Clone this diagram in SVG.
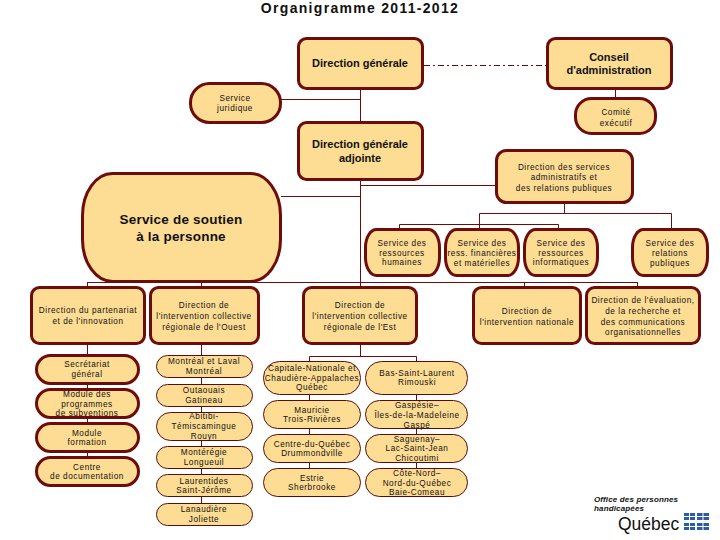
<svg xmlns="http://www.w3.org/2000/svg" width="720" height="540" viewBox="0 0 720 540">
<style>
.n{fill:#fddc94;stroke:#6e0b0b;stroke-width:3}
.t{fill:#fddc94;stroke:#5a0c0c;stroke-width:1}
.c{fill:none;stroke:#6e0b0b;stroke-width:1}
text{font-family:"Liberation Sans",Arial,sans-serif;text-anchor:middle;fill:#111}
.b{font-size:11px;font-weight:700}
.s{font-size:8.2px;letter-spacing:.55px}
.h{font-size:14px;font-weight:700;letter-spacing:1.3px}
.l{font-size:13.5px;font-weight:700;letter-spacing:.2px}
.o{font-size:8px;font-weight:700;font-style:italic;text-anchor:start;letter-spacing:.15px}
</style>
<text class="h" x="360" y="13">Organigramme 2011-2012</text>
<g id="connectors" class="c">
<path d="M360.500 88V287M281 99.500H360.500M281 196.500H360.500M360.500 185.500H496M87.500 282.500H637.500M87.500 282V287M201.500 282V287M524.500 282V287M637.500 282V287"/>
<path d="M564.500 203V213.500M479.500 213.500H671.500M671.500 213.500V229M479.500 213.500V224.500M399.500 224.500H558.500M399.500 224.500V229M479.500 224.500V229M558.500 224.500V229"/>
<path d="M424 65.500H547" stroke-dasharray="6 3 2 3"/>
<path d="M615.500 88V98"/>
<path d="M87.500 344V457M201.500 344V503M360.500 344V356.500M309.500 356.500H416.500M309.500 356.500V468M416.500 356.500V468"/>
</g>
<g id="direction-generale"><rect class="n" x="298.500" y="38.500" width="124" height="50" rx="8"/><text class="b" x="360" y="67">Direction générale</text></g>
<g id="conseil"><rect class="n" x="547.500" y="38.500" width="124" height="50" rx="8"/><text class="b" x="609" y="61">Conseil</text><text class="b" x="609" y="74">d'administration</text></g>
<g id="juridique"><rect class="n" x="190.500" y="83.500" width="90" height="39" rx="19"/><text class="s" x="235" y="101">Service</text><text class="s" x="235" y="111">juridique</text></g>
<g id="comite"><rect class="n" x="575.500" y="98.500" width="80" height="35" rx="16"/><text class="s" x="616" y="115">Comité</text><text class="s" x="616" y="126">exécutif</text></g>
<g id="adjointe"><rect class="n" x="298.500" y="122.500" width="124" height="57" rx="8"/><text class="b" x="360" y="148">Direction générale</text><text class="b" x="360" y="162">adjointe</text></g>
<g id="admin"><rect class="n" x="496.500" y="150.500" width="136" height="52" rx="10"/><text class="s" x="564" y="170">Direction des services</text><text class="s" x="564" y="180">administratifs et</text><text class="s" x="564" y="191">des relations publiques</text></g>
<g id="soutien"><rect class="n" x="82.500" y="173.500" width="198" height="108" rx="30" ry="42"/><text class="l" x="181" y="224">Service de soutien</text><text class="l" x="181" y="241">à la personne</text></g>
<g id="rh"><rect class="n" x="365.500" y="229.500" width="74" height="46" rx="11" ry="18"/><text class="s" x="402" y="246">Service des</text><text class="s" x="402" y="256">ressources</text><text class="s" x="402" y="265">humaines</text></g>
<g id="rf"><rect class="n" x="445.500" y="229.500" width="73" height="46" rx="11" ry="18"/><text class="s" x="482" y="246">Service des</text><text class="s" x="482" y="256">ress. financières</text><text class="s" x="482" y="266">et matérielles</text></g>
<g id="ri"><rect class="n" x="524.500" y="229.500" width="73" height="46" rx="11" ry="18"/><text class="s" x="561" y="246">Service des</text><text class="s" x="561" y="256">ressources</text><text class="s" x="561" y="265">informatiques</text></g>
<g id="rp"><rect class="n" x="632.500" y="229.500" width="75" height="46" rx="11" ry="18"/><text class="s" x="670" y="246">Service des</text><text class="s" x="670" y="256">relations</text><text class="s" x="670" y="266">publiques</text></g>
<g id="partenariat"><rect class="n" x="31.500" y="287.500" width="113" height="56" rx="8"/><text class="s" x="88" y="313">Direction du partenariat</text><text class="s" x="88" y="324">et de l'innovation</text></g>
<g id="ouest"><rect class="n" x="150.500" y="287.500" width="108" height="56" rx="8"/><text class="s" x="204" y="308">Direction de</text><text class="s" x="204" y="319">l'intervention collective</text><text class="s" x="204" y="330">régionale de l'Ouest</text></g>
<g id="est"><rect class="n" x="303.500" y="287.500" width="113" height="56" rx="8"/><text class="s" x="360" y="308">Direction de</text><text class="s" x="360" y="319">l'intervention collective</text><text class="s" x="360" y="330">régionale de l'Est</text></g>
<g id="nationale"><rect class="n" x="473.500" y="287.500" width="107" height="56" rx="8"/><text class="s" x="527" y="314">Direction de</text><text class="s" x="527" y="325">l'intervention nationale</text></g>
<g id="evaluation"><rect class="n" x="586.500" y="287.500" width="113" height="56" rx="8"/><text class="s" x="643" y="303">Direction de l'évaluation,</text><text class="s" x="643" y="314">de la recherche et</text><text class="s" x="643" y="325">des communications</text><text class="s" x="643" y="335">organisationnelles</text></g>
<g id="secretariat"><rect class="n" x="36.500" y="355.500" width="102" height="28" rx="14"/><text class="s" x="87" y="367">Secrétariat</text><text class="s" x="87" y="377">général</text></g>
<g id="module-prog"><rect class="n" x="36.500" y="389.500" width="102" height="28" rx="14"/><text class="s" x="87" y="397">Module des</text><text class="s" x="87" y="407">programmes</text><text class="s" x="87" y="416">de subventions</text></g>
<g id="module-form"><rect class="n" x="36.500" y="423.500" width="102" height="28" rx="14"/><text class="s" x="87" y="436">Module</text><text class="s" x="87" y="445">formation</text></g>
<g id="centre-doc"><rect class="n" x="36.500" y="457.500" width="102" height="28" rx="14"/><text class="s" x="87" y="470">Centre</text><text class="s" x="87" y="479">de documentation</text></g>
<g id="montreal"><rect class="t" x="156.500" y="355.500" width="96" height="22" rx="11"/><text class="s" x="204" y="364">Montréal et Laval</text><text class="s" x="204" y="374">Montréal</text></g>
<g id="outaouais"><rect class="t" x="156.500" y="384.500" width="96" height="22" rx="11"/><text class="s" x="204" y="393">Outaouais</text><text class="s" x="204" y="403">Gatineau</text></g>
<g id="abitibi"><rect class="t" x="156.500" y="412.500" width="96" height="28" rx="14"/><text class="s" x="204" y="419">Abitibi-</text><text class="s" x="204" y="429">Témiscamingue</text><text class="s" x="204" y="439">Rouyn</text></g>
<g id="monteregie"><rect class="t" x="156.500" y="446.500" width="96" height="22" rx="11"/><text class="s" x="204" y="455">Montérégie</text><text class="s" x="204" y="465">Longueuil</text></g>
<g id="laurentides"><rect class="t" x="156.500" y="474.500" width="96" height="22" rx="11"/><text class="s" x="204" y="484">Laurentides</text><text class="s" x="204" y="493">Saint-Jérôme</text></g>
<g id="lanaudiere"><rect class="t" x="156.500" y="503.500" width="96" height="22" rx="11"/><text class="s" x="204" y="512">Lanaudière</text><text class="s" x="204" y="522">Joliette</text></g>
<g id="capitale"><rect class="t" x="263.500" y="361.500" width="97" height="33" rx="16"/><text class="s" x="312" y="371">Capitale-Nationale et</text><text class="s" x="312" y="381">Chaudière-Appalaches</text><text class="s" x="312" y="390">Québec</text></g>
<g id="mauricie"><rect class="t" x="263.500" y="400.500" width="97" height="28" rx="14"/><text class="s" x="312" y="413">Mauricie</text><text class="s" x="312" y="422">Trois-Rivières</text></g>
<g id="centre-quebec"><rect class="t" x="263.500" y="434.500" width="97" height="28" rx="14"/><text class="s" x="312" y="447">Centre-du-Québec</text><text class="s" x="312" y="456">Drummondville</text></g>
<g id="estrie"><rect class="t" x="263.500" y="468.500" width="97" height="28" rx="14"/><text class="s" x="312" y="481">Estrie</text><text class="s" x="312" y="490">Sherbrooke</text></g>
<g id="bas-st-laurent"><rect class="t" x="365.500" y="361.500" width="102" height="33" rx="16"/><text class="s" x="417" y="376">Bas-Saint-Laurent</text><text class="s" x="417" y="385">Rimouski</text></g>
<g id="gaspesie"><rect class="t" x="365.500" y="400.500" width="102" height="28" rx="14"/><text class="s" x="417" y="408">Gaspésie–</text><text class="s" x="417" y="418">Îles-de-la-Madeleine</text><text class="s" x="417" y="428">Gaspé</text></g>
<g id="saguenay"><rect class="t" x="365.500" y="434.500" width="102" height="28" rx="14"/><text class="s" x="417" y="442">Saguenay–</text><text class="s" x="417" y="451">Lac-Saint-Jean</text><text class="s" x="417" y="461">Chicoutimi</text></g>
<g id="cote-nord"><rect class="t" x="365.500" y="468.500" width="102" height="28" rx="14"/><text class="s" x="417" y="476">Côte-Nord–</text><text class="s" x="417" y="486">Nord-du-Québec</text><text class="s" x="417" y="495">Baie-Comeau</text></g>
<g id="logo">
<text class="o" x="594" y="502">Office des personnes</text>
<text class="o" x="594" y="511">handicapées</text>
<text x="618" y="530" style="font-size:17.500px;text-anchor:start">Québec</text>
<path fill="#2b5ca8" d="M684 513h11v7h-11zM697 513h12v7h-12zM684 523h11v7h-11zM697 523h12v7h-12z"/>
<path fill="#fff" d="M689 513h1v7h-1zM684 516h11v1h-11zM702.500 513h1v7h-1zM697 516h12v1h-12zM689 523h1v7h-1zM684 526h11v1h-11zM702.500 523h1v7h-1zM697 526h12v1h-12z"/>
</g>
</svg>
